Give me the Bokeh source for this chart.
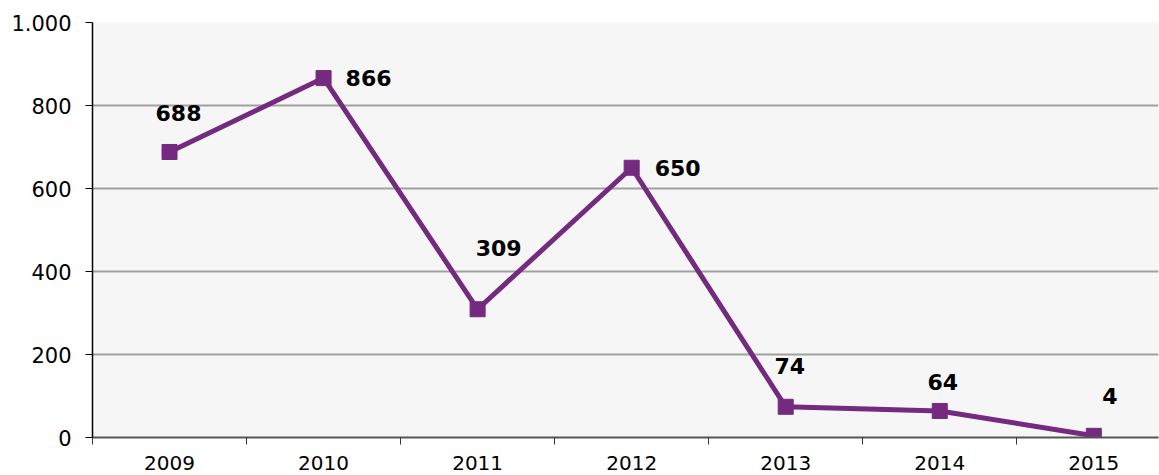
from bokeh.plotting import figure
from bokeh.models import Range1d, FixedTicker, ColumnDataSource
from bokeh.embed import file_html
from bokeh.resources import INLINE
from bokeh.core.properties import value

years = ["2009", "2010", "2011", "2012", "2013", "2014", "2015"]
counts = [688, 866, 309, 650, 74, 64, 4]
y_ticks = [0, 200, 400, 600, 800, 1000]
y_tick_labels = ["0", "200", "400", "600", "800", "1.000"]

# label offsets in screen pixels (style only); negative = upward
label_dx = [9, 45, 21, 46, 4, 3, 16]
label_dy = [-39, 0, -61, 0, -41, -29, -40]

FONT = "DejaVu Sans"
PURPLE = "#742a7e"

xs = list(range(len(years)))
src = ColumnDataSource(dict(x=xs, y=counts, lbl=[str(c) for c in counts],
                            dx=label_dx, dy=label_dy))

p = figure(width=1159, height=475, output_backend="svg", toolbar_location=None,
           x_range=Range1d(-0.5, len(years) - 0.58), y_range=Range1d(0, 1000))
p.min_border_left = 92
p.min_border_right = 1
p.min_border_top = 22
p.min_border_bottom = 38
p.outline_line_color = None
p.background_fill_color = "#f5f6f5"
p.border_fill_color = "white"

p.line("x", "y", source=src, line_color=PURPLE, line_width=5)
p.scatter("x", "y", source=src, marker="square", size=15, fill_color=PURPLE, line_color=PURPLE)
p.text("x", "y", text="lbl", source=src, x_offset="dx", y_offset="dy",
       text_font=value(FONT), text_font_style="bold", text_font_size="22px",
       text_align="center", text_baseline="middle", text_color="black")

# axes
p.xaxis.ticker = FixedTicker(ticks=xs, minor_ticks=[i - 0.5 for i in range(len(years) + 1)])
p.xaxis.major_label_overrides = {i: y for i, y in enumerate(years)}
p.xaxis.major_tick_line_color = None
p.xaxis.major_tick_out = 0
p.xaxis.major_tick_in = 0
p.xaxis.minor_tick_out = 7
p.xaxis.minor_tick_in = 0
p.xaxis.minor_tick_line_color = "#333333"
p.xaxis.minor_tick_line_width = 1
p.xaxis.axis_line_color = "#555555"
p.xaxis.axis_line_width = 2
p.xaxis.major_label_standoff = 11
p.xaxis.major_label_text_font = FONT
p.xaxis.major_label_text_font_size = "20px"
p.xaxis.major_label_text_color = "black"

p.yaxis.ticker = FixedTicker(ticks=y_ticks, minor_ticks=[])
p.yaxis.major_label_overrides = {t: l for t, l in zip(y_ticks, y_tick_labels)}
p.yaxis.major_tick_out = 7
p.yaxis.major_tick_in = 0
p.yaxis.major_tick_line_color = "black"
p.yaxis.axis_line_color = "black"
p.yaxis.axis_line_width = 1.5
p.yaxis.major_label_standoff = 14
p.yaxis.major_label_text_font = FONT
p.yaxis.major_label_text_font_size = "21px"
p.yaxis.major_label_text_color = "black"

p.xgrid.grid_line_color = None
p.ygrid.grid_line_color = "#a0a0a0"
p.ygrid.grid_line_width = 2

open("out.html", "w").write(file_html(p, INLINE))
